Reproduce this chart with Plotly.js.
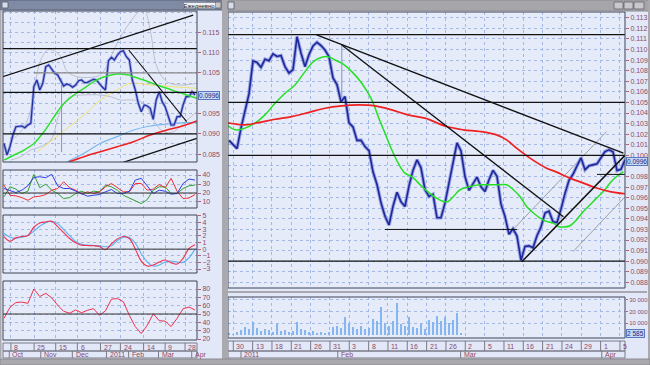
<!DOCTYPE html>
<html><head><meta charset="utf-8">
<script src="https://cdn.plot.ly/plotly-3.0.1.min.js"></script>
<style>html,body{margin:0;padding:0;background:#e3e8f8;}#chart{width:650px;height:365px;}</style>
</head><body><div id="chart"></div>
<script>
// ---------------- LEFT WINDOW DATA (daily) ----------------
const leftClose = [0.08766,0.08478,0.08682,0.08970,0.09175,0.09175,0.09192,0.09150,0.09217,0.09259,
0.10160,0.10325,0.10079,0.10244,0.10653,0.10695,0.10596,0.10490,0.10448,0.10325,
0.10177,0.10227,0.10202,0.10145,0.10202,0.10308,0.10325,0.10259,0.10268,0.10308,
0.10342,0.10325,0.10227,0.10145,0.10079,0.10800,0.10884,0.10818,0.10941,0.11022,
0.11047,0.10899,0.10818,0.10325,0.10079,0.09751,0.09544,0.09709,0.09685,0.09628,
0.09357,0.09833,0.10037,0.09791,0.09667,0.09463,0.09217,0.09217,0.09421,0.09421,
0.09709,0.09914,0.09914,0.10037,0.09956];
const leftSpikeX = [19.3, 19.3];
const leftSpikeY = [0.0855, 0.1037];
const leftGreenX = [0.1,3.4,6.8,10.1,13.4,16.8,20.1,23.4,26.8,30.1,32.3,34.6,37.9,41.8,43.4,46.8,51.2,54.6,57.9,61.2,64.6];
const leftGreenY = [0.08355,0.08478,0.08601,0.08766,0.09052,0.09421,0.09751,0.09956,0.10121,0.10283,0.10367,0.10424,0.10473,0.10448,0.10406,0.10325,0.10202,0.10121,0.10037,0.09956,0.09874];
const leftRedX = [21.8,26.8,32.3,37.9,43.4,49,54.6,59,64.6];
const leftRedY = [0.08313,0.08436,0.08559,0.08682,0.08805,0.08970,0.09094,0.09175,0.09315];
const leftCyanX = [21.2,26.8,32.3,37.9,43.4,49,54.6,60.1,64.6];
const leftCyanY = [0.08313,0.08518,0.08766,0.08929,0.09094,0.09192,0.09241,0.09274,0.09274];
const leftYellowX = [11.2,19,26.8,32.3,37.9,42.3,49,56.8,64.6];
const leftYellowY = [0.08559,0.09012,0.09463,0.09833,0.10079,0.10244,0.10202,0.10160,0.10121];
const leftUpperX = [2.3,5.7,9,10.7,12.3,14.6,16.8,19,21.2,24.6,29,32.3,34.6,37.9,41.2,44.6,46.8,49,51.2,54.6,59,64.6];
const leftUpperY = [0.08847,0.09052,0.09586,0.10325,0.10818,0.11064,0.11047,0.10899,0.10530,0.10406,0.10392,0.10448,0.10695,0.11229,0.11638,0.11968,0.12091,0.11557,0.10653,0.10283,0.10202,0.10244];
const leftLowerX = [2.3,5.7,9,12.3,15.7,19,22.3,26.8,32.3,35.7,39,43.4,46.8,50.1,53.4,56.8,60.1,64.6];
const leftLowerY = [0.08355,0.08436,0.08601,0.08682,0.08847,0.09586,0.09914,0.09956,0.09956,0.09914,0.09833,0.09833,0.09751,0.09340,0.09052,0.09052,0.09259,0.09544];
const leftTrend1X = [-0.43, 63.4], leftTrend1Y = [0.10406, 0.11926];
const leftTrend2X = [39, 64.6],    leftTrend2Y = [0.08273, 0.08889];
const leftTrend3X = [41.8, 61.2],  leftTrend3Y = [0.11064, 0.09298];
const leftLevels = [0.111, 0.1002, 0.090];
const leftGreyLevel = 0.105, leftGreyLevelFrom = 10.1;
const leftLast = '0.0996', leftLastY = 0.0994;
const leftPriceTicks = [0.085, 0.090, 0.095, 0.100, 0.105, 0.110, 0.115];
const leftPriceLabels = ['0.085', '0.090', '0.095', '', '0.105', '0.110', '0.115'];

const adxBlue  = [25.0,23.1,20.5,23.1,28.0,37.4,38.1,37.0,40.8,28.0,25.0,25.0,22.0,18.7,16.4,17.5,18.3,21.3,23.9,19.4,19.4,22.0,34.4,36.3,28.0,19.4,23.1,22.0,18.7,19.4,30.6,35.5,34.4];
const adxGreen = [15.7,26.9,24.3,19.4,22.0,40.8,25.8,29.9,23.1,19.4,13.8,14.9,19.4,22.0,19.4,22.0,21.3,28.8,26.9,23.1,17.5,14.5,10.8,8.2,12.7,23.1,26.9,26.9,19.4,19.4,25.0,28.0,28.8];
const adxRed   = [28.8,17.5,16.8,14.9,11.9,15.7,16.4,18.3,23.1,25.0,32.5,25.8,23.1,18.7,21.3,19.4,21.3,26.9,30.6,25.8,21.3,21.3,30.6,30.6,23.1,24.3,29.5,25.8,36.3,22.0,13.8,14.5,18.3];
const macdLine   = [1.9,1.2,1.7,1.9,2.05,3.3,3.95,4.1,4.2,3.4,2.5,1.6,0.95,0.6,0.55,0.5,0.4,-0.1,0.8,1.55,1.9,1.6,0.0,-1.8,-2.55,-2.4,-1.95,-1.65,-2.05,-2.25,-1.4,0.1,0.65];
const macdSignal = [2.4,1.8,1.65,1.8,2.05,2.7,3.45,4.0,4.2,3.85,2.95,2.05,1.15,0.75,0.6,0.55,0.5,0.35,0.5,1.3,1.8,1.75,0.9,-0.7,-1.95,-2.55,-2.4,-1.95,-1.8,-1.95,-2.0,-1.3,0.0];
const rsi = [44.8,58,63.8,64.3,62.8,80,71,74.8,69.3,60.5,53.2,51,54.8,51.5,54.5,56.4,48.4,53.8,67.8,68.5,64.8,48.4,34.8,26.5,36.4,50.3,42,41.4,35,44.8,56.2,58.4,54.8];

const leftDayTicks  = [2.33,10.1,17.33,24.57,32.33,39,46.77,54,60.67];
const leftDayLabels = ['8','25','15','6','27','24','14','9','28'];
const leftMonTicks  = [1.77,12.33,22.9,34.33,41.77,51.77,62.9];
const leftMonLabels = ['Oct','Nov','Dec','2011','Feb','Mar','Apr'];

// ---------------- RIGHT WINDOW DATA (intraday) ----------------
const rightClose = [0.10141,0.10103,0.10064,0.10257,0.10429,0.10580,0.10893,0.10877,0.10831,0.10908,
0.10894,0.10958,0.10934,0.10943,0.10838,0.10778,0.10809,0.11120,0.10967,0.10838,
0.10952,0.11033,0.11068,0.11037,0.10995,0.10932,0.10731,0.10668,0.10505,0.10555,
0.10307,0.10269,0.10141,0.10143,0.10083,0.10044,0.09844,0.09724,0.09552,0.09424,
0.09342,0.09518,0.09651,0.09561,0.09517,0.09712,0.09858,0.09958,0.09882,0.09675,
0.09611,0.09632,0.09410,0.09410,0.09549,0.09745,0.09929,0.10118,0.10042,0.09800,
0.09669,0.09734,0.09794,0.09703,0.09659,0.09769,0.09858,0.09802,0.09539,0.09423,
0.09254,0.09306,0.09238,0.09009,0.09140,0.09145,0.09127,0.09241,0.09323,0.09455,
0.09473,0.09373,0.09366,0.09492,0.09643,0.09764,0.09821,0.09901,0.09977,0.09863,
0.09901,0.09910,0.09920,0.09977,0.10036,0.10052,0.10033,0.09856,0.09868,0.09958];
const rightSpikeX = [28.2, 28.2], rightSpikeY = [0.1051, 0.1104];
const rightGreenX = [-0.58,1.5,4,6.5,9,11.5,14,16.5,19,21.1,23.2,24.8,26.5,28.2,30.7,33.2,35.7,37.3,39,40.7,42.3,44,45.7,48.2,50.7,51.9,53.6,54.8,56.1,57.75,60.25,62.75,65.25,67.75,69.4,71.1,72.75,74.4,76.1,77.75,79.4,81.1,82.3,83.6,85.25,86.9,88.6,90.25,91.9,93.6,95.25,96.9,98.6];
const rightGreenY = [0.10288,0.10241,0.10257,0.10304,0.10382,0.10492,0.10587,0.10665,0.10791,0.10885,0.10926,0.10932,0.10901,0.10870,0.10791,0.10681,0.10524,0.10366,0.10209,0.10052,0.09926,0.09832,0.09800,0.09706,0.09627,0.09596,0.09564,0.09564,0.09611,0.09675,0.09706,0.09722,0.09722,0.09722,0.09722,0.09675,0.09611,0.09517,0.09455,0.09408,0.09376,0.09360,0.09328,0.09323,0.09335,0.09392,0.09470,0.09533,0.09596,0.09658,0.09738,0.09800,0.09847];
const rightRedX = [-0.58,4,7.3,11.5,15.7,19.8,24,28.2,32.3,36.5,40.7,44.8,49,54.4,58.6,62.75,66.9,69.4,71.9,75.25,79.4,81.75,85.25,88.6,91.9,95.25,99];
const rightRedY = [0.10309,0.10288,0.10309,0.10341,0.10366,0.10404,0.10445,0.10467,0.10476,0.10467,0.10429,0.10382,0.10351,0.10272,0.10241,0.10225,0.10193,0.10146,0.10068,0.09974,0.09879,0.09844,0.09785,0.09738,0.09691,0.09658,0.09637];
const rightTrendAX = [21.9, 98.6], rightTrendAY = [0.11137, 0.10021];
const rightTrendBX = [28.2, 83.6], rightTrendBY = [0.11042, 0.09420];
const rightTrendCX = [73.2, 99],   rightTrendCY = [0.08995, 0.10000];
const rightGrey1X = [70.25, 94.4], rightGrey1Y = [0.09269, 0.10225];
const rightGrey2X = [86, 99],      rightGrey2Y = [0.09090, 0.09608];
const rightLevels = [0.1114, 0.105, 0.100, 0.090];
const rightShortLevels = [[0.093, 39, 72], [0.0982, 92, 99]];
const rightLast = '0.0996', rightLastY = 0.0994;
const rightPriceTicks = [0.088,0.089,0.090,0.091,0.092,0.093,0.094,0.095,0.096,0.097,0.098,0.099,0.100,0.101,0.102,0.103,0.104,0.105,0.106,0.107,0.108,0.109,0.110,0.111,0.112,0.113];
const rightPriceLabels = ['0.088','0.089','0.090','0.091','0.092','0.093','0.094','0.095','0.096','0.097','0.098','','0.100','0.101','0.102','0.103','0.104','0.105','0.106','0.107','0.108','0.109','0.110','0.111','0.112','0.113'];

const volume = [1500,1000,2500,4000,6500,5000,11000,6000,3500,5000,
4000,3000,9000,3500,4000,2500,3500,11000,5000,4000,
3000,3500,2000,2500,1500,3000,7000,8000,6000,15000,
9000,7000,5500,8000,5000,6000,14000,12000,24000,10000,
8000,12000,27000,9000,8000,15000,7000,6000,9000,5000,
13000,11000,16000,12000,15000,10000,13000,19000,1500];
const volLast = '2 585', volLastY = 900;
const volTicks = [10000, 20000, 30000];
const volLabels = ['10 000', '20 000', '30 000'];

const rightDayTicks = [1.08,5.91,10.74,15.57,20.41,25.24,30.07,34.91,39.74,44.57,49.41,54.24,59.07,63.9,68.74,73.57,78.4,83.24,88.07,92.9,97.74];
const rightDayLabels = ['30','13','18','21','26','31','3','8','11','16','21','26','2','5','11','16','21','24','29','1','5'];
const rightMonTicks = [3, 27.2, 57.9, 93.2];
const rightMonLabels = ['2011','Feb','Mar','Apr'];

// ---------------- LAYOUT ----------------
const W = 650, H = 365;
const X = p => p / W, Y = p => 1 - p / H;
const FONT = 'Liberation Sans, Arial, sans-serif';
const LBL = '#8a4a6a', GRID = '#a4b8e8', FRAME = '#3c4454';
const LR = [-0.33, 64.67], RR = [-0.25, 99];
const xL = [X(3), X(197)], xR = [X(228), X(625)];

function xax(dom, range, ticks, anchor) {
  return {domain: dom, range: range, anchor: anchor, tickvals: ticks, showticklabels: false,
    ticks: '', showgrid: true, gridcolor: GRID, griddash: 'dot', gridwidth: 1,
    zeroline: false, showline: false, fixedrange: true};
}
function yax(dom, range, tickvals, anchor, fmt, ticktext, minor, fsize) {
  const a = {domain: dom, range: range, anchor: anchor, side: 'right', tickvals: tickvals,
    tickfont: {family: FONT, size: fsize || 7, color: LBL}, ticks: 'outside', ticklen: 3, tickcolor: '#b06080',
    showgrid: true, gridcolor: GRID, griddash: 'dot', zeroline: false, showline: false, fixedrange: true};
  if (fmt) a.tickformat = fmt;
  if (ticktext) a.ticktext = ticktext;
  if (minor) a.minor = minor;
  return a;
}

const idx = arr => arr.map((_, i) => i);
const idx2 = arr => arr.map((_, i) => 2 * i);
const ln = (x, y, xa, ya, color, width, extra) => Object.assign({type: 'scatter', mode: 'lines', x: x, y: y,
  xaxis: xa, yaxis: ya, line: {color: color, width: width}, hoverinfo: 'skip', showlegend: false}, extra || {});
const sp = (color, width) => ({line: {color: color, width: width, shape: 'spline'}});

const traces = [];
// left price panel
traces.push(ln(leftUpperX, leftUpperY, 'x', 'y', '', 0, sp('#b4b4c4', 0.8)));
traces.push(ln(leftLowerX, leftLowerY, 'x', 'y', '', 0, sp('#b4b4c4', 0.8)));
traces.push(ln(leftYellowX, leftYellowY, 'x', 'y', '', 0, sp('#f0e060', 0.9)));
traces.push(ln(leftCyanX, leftCyanY, 'x', 'y', '', 0, sp('#7ab8f0', 1.2)));
traces.push(ln(leftSpikeX, leftSpikeY, 'x', 'y', '#8a90c0', 1));
traces.push(ln(idx(leftClose), leftClose, 'x', 'y', '#9aa2e4', 2.8));
traces.push(ln(idx(leftClose), leftClose, 'x', 'y', '#2030a0', 1.2));
traces.push(ln(leftGreenX, leftGreenY, 'x', 'y', '', 0, sp('#30e030', 1.5)));
traces.push(ln(leftRedX, leftRedY, 'x', 'y', '', 0, sp('#ee2020', 1.6)));
traces.push(ln(leftTrend1X, leftTrend1Y, 'x', 'y', '#111', 1.3));
traces.push(ln(leftTrend2X, leftTrend2Y, 'x', 'y', '#111', 1.3));
traces.push(ln(leftTrend3X, leftTrend3Y, 'x', 'y', '#111', 1.1));
// ADX panel
traces.push(ln(idx2(adxGreen), adxGreen, 'x4', 'y4', '#30a030', 1));
traces.push(ln(idx2(adxRed), adxRed, 'x4', 'y4', '#ee3030', 1));
traces.push(ln(idx2(adxBlue), adxBlue, 'x4', 'y4', '#3040e0', 1));
// MACD panel
traces.push(ln(idx2(macdSignal), macdSignal, 'x5', 'y5', '', 0, sp('#60b0f0', 1.1)));
traces.push(ln(idx2(macdLine), macdLine, 'x5', 'y5', '', 0, sp('#ee3050', 1.1)));
// RSI panel
traces.push(ln(idx2(rsi), rsi, 'x6', 'y6', '#ee3050', 1));
// right price panel
traces.push(ln(rightGrey1X, rightGrey1Y, 'x2', 'y2', '#8c8c8c', 0.8));
traces.push(ln(rightGrey2X, rightGrey2Y, 'x2', 'y2', '#8c8c8c', 0.8));
traces.push(ln(rightSpikeX, rightSpikeY, 'x2', 'y2', '#8a90c0', 1));
traces.push(ln(idx(rightClose), rightClose, 'x2', 'y2', '#9aa2e4', 3.6));
traces.push(ln(idx(rightClose), rightClose, 'x2', 'y2', '#1c2898', 1.6));
traces.push(ln(rightGreenX, rightGreenY, 'x2', 'y2', '', 0, sp('#22e022', 1.5)));
traces.push(ln(rightRedX, rightRedY, 'x2', 'y2', '', 0, sp('#ee2020', 1.7)));
traces.push(ln(rightTrendAX, rightTrendAY, 'x2', 'y2', '#111', 1.3));
traces.push(ln(rightTrendBX, rightTrendBY, 'x2', 'y2', '#111', 1.3));
traces.push(ln(rightTrendCX, rightTrendCY, 'x2', 'y2', '#111', 1.5));
// volume
traces.push({type: 'bar', x: idx(volume), y: volume, xaxis: 'x3', yaxis: 'y3', width: 0.5,
  marker: {color: '#86b6f0', line: {width: 0}}, hoverinfo: 'skip', showlegend: false});

const shapes = [];
const rect = (x0, y0, x1, y1, fill, line, lw) => shapes.push({type: 'rect', xref: 'paper', yref: 'paper',
  x0: X(x0), x1: X(x1), y0: Y(y1), y1: Y(y0), fillcolor: fill || 'rgba(0,0,0,0)',
  line: {color: line || 'rgba(0,0,0,0)', width: lw === undefined ? 1 : lw}, layer: 'above'});
// horizontal levels
leftLevels.forEach(v => shapes.push({type: 'line', xref: 'x', yref: 'y', x0: LR[0], x1: LR[1], y0: v, y1: v, line: {color: '#111', width: 1.2}}));
shapes.push({type: 'line', xref: 'x', yref: 'y', x0: leftGreyLevelFrom, x1: LR[1], y0: leftGreyLevel, y1: leftGreyLevel, line: {color: '#8a8a8a', width: 1.2}});
rightLevels.forEach(v => shapes.push({type: 'line', xref: 'x2', yref: 'y2', x0: RR[0], x1: RR[1], y0: v, y1: v, line: {color: '#111', width: 1.2}}));
rightShortLevels.forEach(s => shapes.push({type: 'line', xref: 'x2', yref: 'y2', x0: s[1], x1: s[2], y0: s[0], y1: s[0], line: {color: '#111', width: 1}}));
shapes.push({type: 'line', xref: 'x4', yref: 'y4', x0: LR[0], x1: LR[1], y0: 20, y1: 20, line: {color: '#333', width: 1}});
shapes.push({type: 'line', xref: 'x5', yref: 'y5', x0: LR[0], x1: LR[1], y0: 0, y1: 0, line: {color: '#333', width: 1}});
shapes.push({type: 'line', xref: 'x6', yref: 'y6', x0: LR[0], x1: LR[1], y0: 50, y1: 50, line: {color: '#333', width: 1}});

// panel frames
rect(3, 11, 197, 162, null, FRAME, 1);
rect(3, 170, 197, 208, null, FRAME, 1);
rect(3, 215, 197, 273, null, FRAME, 1);
rect(3, 281, 197, 340, null, FRAME, 1);
rect(228, 12, 625, 288, null, FRAME, 1);
rect(228, 297, 625, 338, null, FRAME, 1);
shapes.push({type: 'line', xref: 'paper', yref: 'paper', x0: X(227), x1: X(647), y0: Y(292), y1: Y(292), line: {color: '#a8a8b0', width: 2}});
// date rows
rect(3, 343, 197, 351, null, '#7a7a88', 1);
rect(3, 351, 197, 358, null, '#7a7a88', 1);
rect(228, 341, 625, 351, null, '#7a7a88', 1);
rect(228, 351, 625, 358, null, '#7a7a88', 1);
leftDayTicks.forEach(t => shapes.push({type: 'line', xref: 'x', yref: 'paper', x0: t, x1: t, y0: Y(351), y1: Y(343), line: {color: '#7a7a88', width: 1}}));
leftMonTicks.forEach(t => shapes.push({type: 'line', xref: 'x', yref: 'paper', x0: t, x1: t, y0: Y(358), y1: Y(351), line: {color: '#7a7a88', width: 1}}));
rightDayTicks.forEach(t => shapes.push({type: 'line', xref: 'x2', yref: 'paper', x0: t, x1: t, y0: Y(351), y1: Y(341), line: {color: '#7a7a88', width: 1}}));
rightMonTicks.forEach(t => shapes.push({type: 'line', xref: 'x2', yref: 'paper', x0: t, x1: t, y0: Y(358), y1: Y(351), line: {color: '#7a7a88', width: 1}}));
// window chrome
rect(0, 0, 224, 10, '#7f8aa4', '#5a6478', 1);
rect(226, 0, 650, 11, '#a6a6aa', '#8a8a90', 1);
rect(222, 0, 228, 365, '#a9a9ae', null, 0);
rect(648, 0, 650, 365, '#a9a9ae', null, 0);
rect(0, 359, 650, 365, '#a9a9ae', '#8a8a90', 1);
rect(0, 10, 1.5, 359, '#a9a9ae', null, 0);
rect(2, 2, 8, 8, '#d8dce8', '#505868', 0.8);
rect(228, 2, 234, 9, '#d8dce8', '#505868', 0.8);
rect(614, 2, 623, 9, '#c8c8cc', '#606068', 0.8);
rect(624, 2, 633, 9, '#c8c8cc', '#606068', 0.8);
rect(634, 2, 644, 9, '#c8c8cc', '#606068', 0.8);
rect(206, 2, 213, 8, '#c8c8cc', '#606068', 0.8);
rect(214, 2, 221, 8, '#c8c8cc', '#606068', 0.8);

const annotations = [];
const ann = (o) => annotations.push(Object.assign({showarrow: false, font: {family: FONT, size: 7, color: LBL}}, o));
leftDayTicks.forEach((t, i) => ann({xref: 'x', yref: 'paper', x: t + 0.4, y: Y(347), xanchor: 'left', yanchor: 'middle', text: leftDayLabels[i]}));
leftMonTicks.forEach((t, i) => ann({xref: 'x', yref: 'paper', x: t + 0.4, y: Y(354.5), xanchor: 'left', yanchor: 'middle', text: leftMonLabels[i]}));
rightDayTicks.forEach((t, i) => ann({xref: 'x2', yref: 'paper', x: t + 0.25, y: Y(346), xanchor: 'left', yanchor: 'middle', text: rightDayLabels[i]}));
rightMonTicks.forEach((t, i) => ann({xref: 'x2', yref: 'paper', x: t + 0.25, y: Y(354.5), xanchor: 'left', yanchor: 'middle', text: rightMonLabels[i]}));
const box = (xp, yref, yv, txt) => ann({xref: 'paper', yref: yref, x: X(xp), y: yv, xanchor: 'left', yanchor: 'middle', text: txt,
  bgcolor: '#c4d8f6', bordercolor: '#5a78c0', borderwidth: 1, borderpad: 0, font: {family: FONT, size: 6.5, color: '#1a2a80'}});
box(198, 'y', leftLastY, leftLast);
box(626, 'y2', rightLastY, rightLast);
box(626, 'y3', volLastY, volLast);
ann({xref: 'paper', yref: 'paper', x: X(183), y: Y(5), xanchor: 'left', yanchor: 'middle', text: 'Ежедневно',
  bgcolor: '#eef0f6', bordercolor: '#505868', borderwidth: 0.5, borderpad: 0, font: {family: FONT, size: 6, color: '#222'}});

const layout = {
  width: W, height: H, margin: {l: 0, r: 0, t: 0, b: 0},
  paper_bgcolor: '#e3e8f8', plot_bgcolor: '#e6ebfa', showlegend: false, bargap: 0,
  xaxis:  xax(xL, LR, leftDayTicks, 'y'),
  yaxis:  yax([Y(162), Y(11)], [0.08305, 0.12025], leftPriceTicks, 'x', null, leftPriceLabels,
          {dtick: 0.0025, tick0: 0.085, showgrid: true, gridcolor: GRID, griddash: 'dot', ticks: ''}),
  xaxis2: xax(xR, RR, rightDayTicks, 'y2'),
  yaxis2: yax([Y(288), Y(12)], [0.08747, 0.11354], rightPriceTicks, 'x2', null, rightPriceLabels),
  xaxis3: xax(xR, RR, rightDayTicks, 'y3'),
  yaxis3: Object.assign(yax([Y(338), Y(297)], [-2560, 32500], volTicks, 'x3', null, volLabels, null, 6), {ticklen: 2}),
  xaxis4: xax(xL, LR, leftDayTicks, 'y4'),
  yaxis4: yax([Y(208), Y(170)], [3.3, 45.6], [10, 20, 30, 40], 'x4'),
  xaxis5: xax(xL, LR, leftDayTicks, 'y5'),
  yaxis5: yax([Y(273), Y(215)], [-3.6, 5.15], [-3, -2, -1, 0, 1, 2, 3, 4, 5], 'x5'),
  xaxis6: xax(xL, LR, leftDayTicks, 'y6'),
  yaxis6: yax([Y(340), Y(281)], [18.8, 89.6], [20, 30, 40, 50, 60, 70, 80], 'x6'),
  shapes: shapes, annotations: annotations
};

Plotly.newPlot('chart', traces, layout, {displayModeBar: false, staticPlot: true});
</script></body></html>
